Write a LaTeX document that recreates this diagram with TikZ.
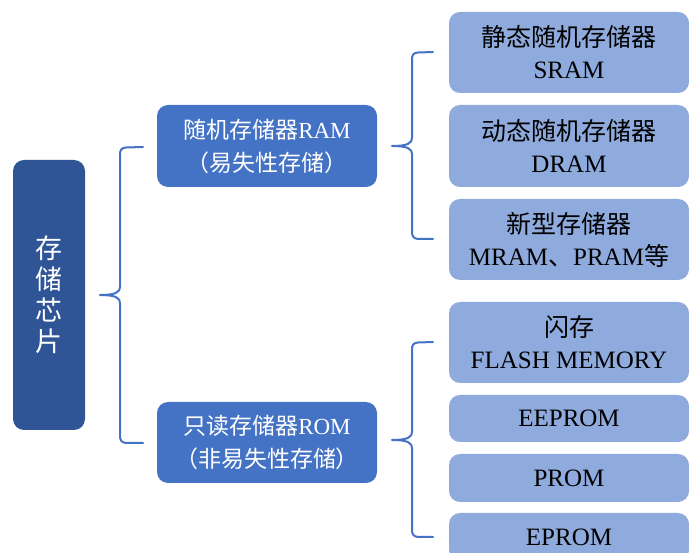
\documentclass[tikz,border=0pt]{standalone}
\usepackage{fontspec}
\setmainfont{Liberation Serif}
\newfontfamily\cjk{Noto Sans CJK SC}
\newcommand\zh[1]{{\cjk #1}}
\definecolor{darkbox}{HTML}{2F5597}
\definecolor{midbox}{HTML}{4472C4}
\definecolor{lightbox}{HTML}{8FAADC}
\definecolor{braceline}{HTML}{4472C4}
\tikzset{
  rootbox/.style={rectangle, rounded corners=11pt, fill=darkbox, text=white, minimum width=72pt, minimum height=270pt, inner sep=0pt, align=center, font=\fontsize{27}{31}\selectfont},
  catbox/.style={rectangle, rounded corners=11pt, fill=midbox, text=white, minimum width=220pt, minimum height=82pt, inner sep=0pt, align=center, font=\fontsize{23}{33}\selectfont},
  leafbox/.style={rectangle, rounded corners=11pt, fill=lightbox, text=black, minimum width=240pt, inner sep=0pt, align=center, font=\fontsize{25}{32}\selectfont},
  bracepath/.style={draw=braceline, line width=2pt, line join=round, line cap=round}
}
\begin{document}
\begin{tikzpicture}[x=1pt,y=-1pt]
\useasboundingbox (0,0) rectangle (689,553);
\clip (0,0) rectangle (689,553);
% root
\node[rootbox] (root) at (49,295) {\zh{存}\\\zh{储}\\\zh{芯}\\\zh{片}};
% categories
\node[catbox] (ram) at (267,146) {\zh{随机存储器}RAM\\\zh{（易失性存储）}};
\node[catbox, minimum height=81pt] (rom) at (267,442.5) {\zh{只读存储器}ROM\\\zh{（非易失性存储）}};
% leaves
\node[leafbox, minimum height=81pt] (sram) at (569,52.5) {\zh{静态随机存储器}\\SRAM};
\node[leafbox, minimum height=82pt] (dram) at (569,146) {\zh{动态随机存储器}\\DRAM};
\node[leafbox, minimum height=81pt] (newm) at (569,239.5) {\zh{新型存储器}\\MRAM\zh{、}PRAM\zh{等}};
\node[leafbox, minimum height=81pt] (flash) at (569,342.5) {\zh{闪存}\\FLASH MEMORY};
\node[leafbox, minimum height=47pt] (eeprom) at (569,418.5) {EEPROM};
\node[leafbox, minimum height=48pt] (prom) at (569,478) {PROM};
\node[leafbox, minimum height=48pt] (eprom) at (569,537) {EPROM};
% brace coordinates
\coordinate (b0t) at (143,147);
\coordinate (b0m) at (100,295);
\coordinate (b0b) at (143,443);
\coordinate (b1t) at (433,52);
\coordinate (b1m) at (392,146);
\coordinate (b1b) at (433,239);
\coordinate (b2t) at (433,342);
\coordinate (b2m) at (392,440);
\coordinate (b2b) at (433,537);
% outer brace
\draw[bracepath] (b0t) -- (126,147.5) .. controls (121,148) and (120,150) .. (120,155)
  -- (120,287) .. controls (120,292) and (116,295) .. (b0m)
  .. controls (116,295) and (120,298) .. (120,303)
  -- (120,435) .. controls (120,440) and (121,442.5) .. (126,443) -- (b0b);
% RAM brace
\draw[bracepath] (b1t) -- (418,52.5) .. controls (413,53) and (412,55) .. (412,60)
  -- (412,138) .. controls (412,143) and (408,146) .. (b1m)
  .. controls (408,146) and (412,149) .. (412,154)
  -- (412,231) .. controls (412,236) and (413,238.5) .. (418,239) -- (b1b);
% ROM brace
\draw[bracepath] (b2t) -- (418,342.5) .. controls (413,343) and (412,345) .. (412,350)
  -- (412,432) .. controls (412,437) and (408,440) .. (b2m)
  .. controls (408,440) and (412,443) .. (412,448)
  -- (412,529) .. controls (412,534) and (413,536.5) .. (418,537) -- (b2b);
\end{tikzpicture}
\end{document}
